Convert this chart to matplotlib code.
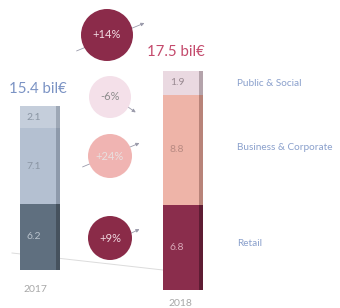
import matplotlib
matplotlib.use("Agg")
import matplotlib.pyplot as plt
from matplotlib.patches import Circle

# ---- data ----
years = ["2017", "2018"]
segments = ["Retail", "Business & Corporate", "Public & Social"]
values_2017 = [6.2, 7.1, 2.1]
values_2018 = [6.8, 8.8, 1.9]
totals = ["15.4 bil€", "17.5 bil€"]
changes = ["+9%", "+24%", "-6%", "+14%"]   # Retail, Business, Public, Total
legend_labels = ["Retail", "Business & Corporate", "Public & Social"]

# ---- styles ----
colors_2017 = ["#5f6f7f", "#b4c0d1", "#c5cedb"]
side_2017 = ["#46525e", "#8e9aab", "#9ea8b6"]
colors_2018 = ["#8a2d4c", "#eeb4a8", "#ead9e1"]
side_2018 = ["#5e1c33", "#b88379", "#b4a3ab"]
label_col_2017 = ["#b8c2cc", "#8a95a3", "#8a95a3"]
label_col_2018 = ["#d9a8b8", "#b88a82", "#9a8a92"]

plt.rcParams['font.family'] = ['Lato', 'DejaVu Sans']
W, H = 340, 308
fig = plt.figure(figsize=(W / 100, H / 100), dpi=100)
fig.patch.set_facecolor("white")

def px_axes(left, bottom, width, height):
    return fig.add_axes([left / W, (H - bottom) / H, width / W, height / H])

def draw_bar(ax, vals, cols, sides, lcols):
    base = 0
    for v, c, s, lc in zip(vals, cols, sides, lcols):
        ax.bar(0, v, bottom=base, width=1.0, color=c, align="center", linewidth=0)
        ax.bar(0.45, v, bottom=base, width=0.1, color=s, align="center", linewidth=0)
        ax.text(-0.15, base + v / 2, f"{v:.1f}", ha="center", va="center",
                fontsize=7.5, color=lc)
        base += v
    ax.set_xlim(-0.5, 0.5)
    ax.set_ylim(0, base)
    ax.axis("off")

# overlay (pixel coordinates)
ov = fig.add_axes([0, 0, 1, 1])
ov.set_xlim(0, W)
ov.set_ylim(H, 0)
ov.axis("off")
ov.set_zorder(0)

# floor line
ov.plot([12, 163], [253, 270], color="#dcdcdc", lw=0.7)

ax17 = px_axes(20, 270, 40, 164)
draw_bar(ax17, values_2017, colors_2017, side_2017, label_col_2017)
ax18 = px_axes(163, 290, 40, 219)
draw_bar(ax18, values_2018, colors_2018, side_2018, label_col_2018)
ax17.set_zorder(1)
ax18.set_zorder(1)

ov2 = fig.add_axes([0, 0, 1, 1])
ov2.set_xlim(0, W)
ov2.set_ylim(H, 0)
ov2.axis("off")
ov2.patch.set_alpha(0)
ov2.set_zorder(2)

# totals
ov2.text(9, 89, totals[0], fontsize=10.8, color="#7b93c4", ha="left", va="center")
ov2.text(147, 52, totals[1], fontsize=10.8, color="#c44a6c", ha="left", va="center")

# years
ov2.text(35, 290, years[0], fontsize=7.5, color="#a8a8a8", ha="center", va="center")
ov2.text(180, 304, years[1], fontsize=7.5, color="#a8a8a8", ha="center", va="center")

# legend labels
for lab, y in zip(legend_labels, [243, 148, 83]):
    ov2.text(237, y, lab, fontsize=7.2, color="#8aa0cc", ha="left", va="center")

# bubbles
bubbles = [
    (changes[0], (110, 238), 22, "#8a2b48", "#f0d8e0", ((104, 246), (142, 228))),
    (changes[1], (110, 156), 22, "#f0b4b2", "#e8e0e0", ((80, 168), (142, 142))),
    (changes[2], (110, 97), 21, "#f4e0e9", "#8c8c8c", ((118, 100), (138, 114))),
    (changes[3], (107, 35), 26, "#8b2b4a", "#f2dde4", ((74, 52), (147, 22))),
]
for txt, (cx, cy), r, fc, tc, (p0, p1) in bubbles:
    ov2.annotate("", xy=p1, xytext=p0,
                 arrowprops=dict(arrowstyle="-|>", color="#9a9aaa", lw=0.6,
                                 mutation_scale=5))
    ov2.add_patch(Circle((cx, cy), r, facecolor=fc, edgecolor="none", zorder=3))
    ov2.text(cx, cy, txt, fontsize=8, color=tc, ha="center", va="center", zorder=4)

fig.savefig("out.png", dpi=100, facecolor="white")
